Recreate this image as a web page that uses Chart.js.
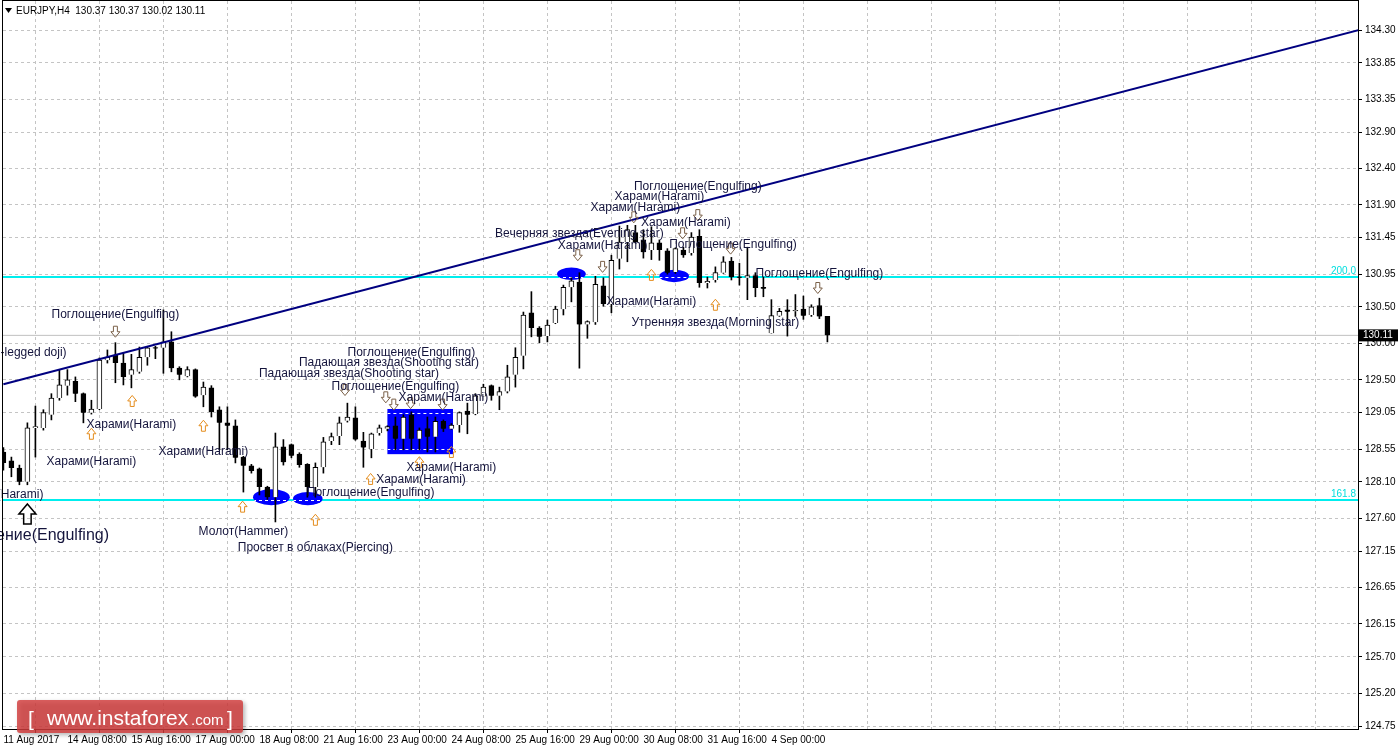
<!DOCTYPE html>
<html lang="ru">
<head>
<meta charset="UTF-8" />
<title>EURJPY,H4</title>
<script src="https://cdn.jsdelivr.net/npm/chart.js"></script>
<style>
  html, body { margin: 0; padding: 0; background: #fff; }
  #wrap { width: 1398px; height: 750px; }
</style>
</head>
<body>
<div id="wrap"><canvas id="chart" width="1398" height="750"></canvas></div>
<script>
  // H4 свечи, бар 0 = 11 Aug 2017 00:00
  const opens = [128.51,128.39,128.29,128.10,128.84,128.84,129.02,129.25,129.42,129.48,
    129.31,129.05,129.10,129.77,129.84,129.73,129.57,129.61,129.81,129.94,
    129.94,130.02,129.66,129.55,129.64,129.29,129.39,129.09,128.91,128.87,
    128.44,128.32,128.28,128.03,127.89,128.58,128.61,128.48,128.34,128.03,
    128.30,128.66,128.73,128.94,128.98,128.66,128.55,128.77,128.83,128.87,
    128.69,129.02,128.69,128.83,128.72,128.93,128.83,128.88,129.07,129.03,
    129.27,129.42,129.28,129.34,129.57,129.83,130.42,130.21,130.10,130.28,
    130.47,130.77,130.84,130.26,130.29,130.79,130.54,131.16,131.39,131.52,
    131.42,131.28,131.38,131.27,130.98,131.28,131.24,131.47,130.83,130.87,
    130.97,131.13,130.91,130.90,130.93,130.77,130.14,130.38,130.46,130.44,
    130.47,130.39,130.52,130.37];
  const highs = [128.57,128.44,128.33,128.91,129.14,129.09,129.31,129.64,129.64,129.54,
    129.32,129.22,129.80,129.91,130.01,129.87,129.85,129.95,129.95,129.96,
    130.46,130.16,129.68,129.68,129.65,129.47,129.42,129.13,129.13,128.95,
    128.45,128.34,128.29,128.04,128.77,128.68,128.62,128.50,128.35,128.36,
    128.71,128.77,128.99,129.18,129.13,128.78,128.77,128.88,128.87,128.99,
    129.02,129.06,128.84,128.99,128.99,128.95,128.90,129.06,129.18,129.31,
    129.44,129.43,129.40,129.70,129.94,130.43,130.71,130.23,130.32,130.51,
    130.80,130.90,130.97,130.31,130.92,130.90,131.21,131.61,131.62,131.62,
    131.56,131.60,131.42,131.30,131.31,131.32,131.52,131.56,130.91,131.05,
    131.19,131.18,131.10,131.32,130.97,130.91,130.60,130.48,130.60,130.67,
    130.65,130.53,130.62,130.37];
  const lows = [128.26,128.17,128.06,128.06,128.44,128.81,128.95,129.22,129.29,129.20,
    128.91,129.03,129.09,129.73,129.46,129.43,129.39,129.59,129.70,129.79,
    129.59,129.61,129.50,129.54,129.26,129.13,128.99,128.54,128.54,128.36,
    127.96,128.22,127.92,127.86,127.55,128.33,128.43,128.30,127.89,127.89,
    128.22,128.61,128.61,128.92,128.67,128.30,128.43,128.74,128.80,128.54,
    128.54,128.54,128.54,128.51,128.51,128.79,128.82,128.78,128.76,129.02,
    129.27,129.22,129.09,129.32,129.40,129.65,130.09,130.01,130.02,130.27,
    130.39,130.57,129.66,130.07,130.26,130.51,130.42,131.02,131.12,131.38,
    131.17,131.15,131.14,130.95,130.96,131.18,131.21,130.77,130.76,130.84,
    130.96,130.87,130.80,130.60,130.64,130.64,130.14,130.37,130.10,130.37,
    130.33,130.37,130.34,130.02];
  const closes = [128.36,128.29,128.10,128.84,128.86,129.05,129.25,129.43,129.50,129.31,
    129.05,129.10,129.77,129.81,129.73,129.54,129.64,129.81,129.94,129.93,
    130.02,129.66,129.57,129.64,129.27,129.40,129.06,128.91,128.87,128.43,
    128.32,128.25,128.03,127.89,128.58,128.37,128.46,128.33,128.03,128.30,
    128.65,128.72,128.91,128.99,128.68,128.57,128.76,128.84,128.86,128.69,
    128.99,128.69,128.81,128.72,128.93,128.83,128.88,129.05,129.02,129.28,
    129.40,129.28,129.34,129.54,129.81,130.39,130.21,130.09,130.25,130.47,
    130.77,130.86,130.26,130.30,130.81,130.54,131.14,131.39,131.56,131.39,
    131.25,131.38,131.28,130.97,131.30,131.21,131.46,130.83,130.85,130.97,
    131.12,130.91,130.90,130.93,130.76,130.75,130.38,130.44,130.44,130.45,
    130.38,130.50,130.37,130.11];

  // подписи времени, каждые 8 баров
  const timeLabels = ['11 Aug 2017','14 Aug 08:00','15 Aug 16:00','17 Aug 00:00','18 Aug 08:00',
    '21 Aug 16:00','23 Aug 00:00','24 Aug 08:00','25 Aug 16:00','29 Aug 00:00',
    '30 Aug 08:00','31 Aug 16:00','4 Sep 00:00'];
  const priceTicks = [134.30,133.85,133.35,132.90,132.40,131.90,131.45,130.95,130.50,130.00,
    129.50,129.05,128.55,128.10,127.60,127.15,126.65,126.15,125.70,125.20,124.75];

  // линии
  const trendLine = [[0, 129.44], [169.4, 134.30]];
  const fiboLevels = [['200.0', 130.91], ['161.8', 127.85]];
  const lastPrice = 130.11;

  // фигуры: [бар от, бар до, цена верх, цена низ]
  const zoneRect = [48.0, 56.2, 129.10, 128.48];
  const zoneEllipses = [
    [31.2, 35.8, 128.00, 127.78],
    [36.2, 39.9, 127.96, 127.78],
    [69.2, 72.8, 131.04, 130.87],
    [82.0, 85.7, 131.01, 130.84]
  ];

  // подписи паттернов: [бар, цена, текст, выравнивание, размер]
  const patternLabels = [
    [14.0, 130.39, 'Поглощение(Engulfing)'],
    [7.9, 129.87, 'Long-legged doji)', 'right'],
    [16.0, 128.89, 'Харами(Harami)'],
    [11.0, 128.37, 'Харами(Harami)'],
    [25.0, 128.51, 'Харами(Harami)'],
    [5.0, 127.93, 'Харами(Harami)', 'right'],
    [13.2, 127.36, 'Поглощение(Engulfing)', 'right', 16],
    [30.0, 127.41, 'Молот(Hammer)'],
    [39.0, 127.20, 'Просвет в облаках(Piercing)'],
    [45.9, 127.95, 'Поглощение(Engulfing)'],
    [52.2, 128.13, 'Харами(Harami)'],
    [51.0, 129.87, 'Поглощение(Engulfing)'],
    [48.2, 129.73, 'Падающая звезда(Shooting star)'],
    [43.2, 129.58, 'Падающая звезда(Shooting star)'],
    [49.0, 129.40, 'Поглощение(Engulfing)'],
    [55.0, 129.25, 'Харами(Harami)'],
    [56.0, 128.30, 'Харами(Harami)'],
    [72.0, 131.50, 'Вечерняя звезда(Evening star)'],
    [86.8, 132.15, 'Поглощение(Engulfing)'],
    [82.0, 132.01, 'Харами(Harami)'],
    [79.0, 131.86, 'Харами(Harami)'],
    [85.3, 131.65, 'Харами(Harami)'],
    [74.9, 131.34, 'Харами(Harami)'],
    [91.2, 131.36, 'Поглощение(Engulfing)'],
    [81.0, 130.57, 'Харами(Harami)'],
    [89.0, 130.28, 'Утренняя звезда(Morning star)'],
    [102.0, 130.95, 'Поглощение(Engulfing)']
  ];
  const upArrows = [[16.1,129.21],[11.0,128.76],[25.0,128.87],[29.9,127.76],[39.0,127.58],
    [45.9,128.14],[56.0,128.51],[52.0,128.37],[81.0,130.94],[89.0,130.53]];
  const downArrows = [[14.0,130.16],[42.7,129.36],[47.8,129.26],[48.8,129.16],[50.9,129.18],
    [54.9,129.16],[71.8,131.21],[74.9,131.05],[78.8,131.73],[84.9,131.51],[86.8,131.76],
    [90.9,131.30],[101.8,130.76]];
  const bigArrow = [3.0, 127.66];

  Chart.defaults.font.family = '"Liberation Sans", Arial, sans-serif';

  const wicks = opens.map((o, i) => ({ x: i, y: [lows[i], highs[i]] }));
  const bodies = opens.map((o, i) => ({ x: i, y: [Math.min(o, closes[i]), Math.max(o, closes[i])] }));
  const bodyColors = opens.map((o, i) => closes[i] >= o ? '#ffffff' : '#000000');

  function arrow(ctx, x, y, up, w, h, color, lw) {
    const hw = w / 2, sw = w * 0.22, top = y - h / 2, bot = y + h / 2;
    ctx.beginPath();
    if (up) {
      const mid = top + h * 0.5;
      ctx.moveTo(x, top); ctx.lineTo(x + hw, mid); ctx.lineTo(x + sw, mid); ctx.lineTo(x + sw, bot);
      ctx.lineTo(x - sw, bot); ctx.lineTo(x - sw, mid); ctx.lineTo(x - hw, mid);
    } else {
      const mid = bot - h * 0.5;
      ctx.moveTo(x, bot); ctx.lineTo(x + hw, mid); ctx.lineTo(x + sw, mid); ctx.lineTo(x + sw, top);
      ctx.lineTo(x - sw, top); ctx.lineTo(x - sw, mid); ctx.lineTo(x - hw, mid);
    }
    ctx.closePath();
    ctx.strokeStyle = color;
    ctx.lineWidth = lw;
    ctx.stroke();
  }

  // без автоматических отступов под крайние подписи
  function noPad(s) {
    s.paddingTop = 0; s.paddingBottom = 0; s.paddingLeft = 0; s.paddingRight = 0;
  }

  const extras = {
    id: 'extras',
    beforeDatasetDraw(chart, args) {
      if (chart.data.datasets[args.index].label !== 'wicks') return;
      const ctx = chart.ctx, xs = chart.scales.x, ys = chart.scales.y;
      ctx.save();
      // прямоугольник
      const rx0 = xs.getPixelForValue(zoneRect[0]), rx1 = xs.getPixelForValue(zoneRect[1]);
      const ry0 = ys.getPixelForValue(zoneRect[2]), ry1 = ys.getPixelForValue(zoneRect[3]);
      ctx.fillStyle = '#0000ff';
      ctx.fillRect(rx0, ry0, rx1 - rx0, ry1 - ry0);
      ctx.save();
      ctx.beginPath(); ctx.rect(rx0, ry0, rx1 - rx0, ry1 - ry0); ctx.clip();
      ctx.strokeStyle = '#ffffff'; ctx.lineWidth = 1; ctx.setLineDash([3, 3]);
      priceTicks.forEach(v => {
        const py = Math.round(ys.getPixelForValue(v)) + 0.5;
        ctx.beginPath(); ctx.moveTo(rx0, py); ctx.lineTo(rx1, py); ctx.stroke();
      });
      ctx.restore();
      // эллипсы
      zoneEllipses.forEach(e => {
        const x0 = xs.getPixelForValue(e[0]), x1 = xs.getPixelForValue(e[1]);
        const y0 = ys.getPixelForValue(e[2]), y1 = ys.getPixelForValue(e[3]);
        ctx.save();
        ctx.beginPath();
        ctx.ellipse((x0 + x1) / 2, (y0 + y1) / 2, (x1 - x0) / 2, (y1 - y0) / 2, 0, 0, Math.PI * 2);
        ctx.fillStyle = '#0000ff';
        ctx.fill();
        ctx.clip();
        ctx.strokeStyle = '#ffffff'; ctx.lineWidth = 1; ctx.setLineDash([3, 3]);
        fiboLevels.forEach(f => {
          const py = Math.round(ys.getPixelForValue(f[1])) + 0.5;
          ctx.beginPath(); ctx.moveTo(x0, py); ctx.lineTo(x1, py); ctx.stroke();
        });
        ctx.restore();
      });
      ctx.restore();
    },
    afterDatasetsDraw(chart) {
      const ctx = chart.ctx, xs = chart.scales.x, ys = chart.scales.y;
      ctx.save();
      upArrows.forEach(a => arrow(ctx, xs.getPixelForValue(a[0]), ys.getPixelForValue(a[1]), true, 9, 11, '#e48c1c', 1));
      downArrows.forEach(a => arrow(ctx, xs.getPixelForValue(a[0]), ys.getPixelForValue(a[1]), false, 9, 11, '#7a6048', 1));
      arrow(ctx, xs.getPixelForValue(bigArrow[0]), ys.getPixelForValue(bigArrow[1]), true, 17, 20, '#000000', 1.5);
      ctx.textBaseline = 'middle';
      ctx.fillStyle = '#14143c';
      patternLabels.forEach(l => {
        ctx.font = (l[4] || 12) + 'px "Liberation Sans", Arial, sans-serif';
        ctx.textAlign = l[3] || 'center';
        ctx.fillText(l[2], xs.getPixelForValue(l[0]), ys.getPixelForValue(l[1]));
      });
      ctx.restore();
    },
    afterDraw(chart) {
      const ctx = chart.ctx, ca = chart.chartArea, ys = chart.scales.y;
      ctx.save();
      // рамка
      ctx.strokeStyle = '#000'; ctx.lineWidth = 1;
      ctx.strokeRect(ca.left - 0.5, ca.top - 0.5, ca.right - ca.left + 1, ca.bottom - ca.top + 1);
      // уровни фибо
      ctx.font = '10px "Liberation Sans", Arial, sans-serif';
      ctx.fillStyle = '#00dede';
      ctx.textAlign = 'right'; ctx.textBaseline = 'bottom';
      fiboLevels.forEach(f => ctx.fillText(f[0], ca.right - 2, ys.getPixelForValue(f[1]) - 1));
      // текущая цена
      const py = ys.getPixelForValue(lastPrice);
      ctx.fillStyle = '#000';
      ctx.fillRect(ca.right + 1, py - 6, 40, 12);
      ctx.fillStyle = '#fff';
      ctx.textAlign = 'left'; ctx.textBaseline = 'middle';
      ctx.fillText(lastPrice.toFixed(2), ca.right + 5, py);
      // заголовок
      ctx.fillStyle = '#000';
      ctx.beginPath(); ctx.moveTo(5, 8); ctx.lineTo(12, 8); ctx.lineTo(8.5, 13); ctx.closePath(); ctx.fill();
      ctx.fillText('EURJPY,H4  ' + [opens[103], highs[103], lows[103], closes[103]].map(v => v.toFixed(2)).join(' '), 16, 11);
      // логотип
      ctx.shadowColor = 'rgba(0,0,0,0.35)'; ctx.shadowBlur = 4; ctx.shadowOffsetX = 2; ctx.shadowOffsetY = 2;
      ctx.fillStyle = 'rgba(210,60,60,0.82)';
      ctx.beginPath(); ctx.roundRect(17, 700, 226, 33, 3); ctx.fill();
      ctx.shadowColor = 'transparent';
      ctx.fillStyle = '#fff';
      ctx.textBaseline = 'alphabetic';
      ctx.font = '21px "Liberation Sans", Arial, sans-serif';
      ctx.fillText('[', 28, 726);
      ctx.fillText('www.instaforex', 47, 725);
      ctx.font = '15px "Liberation Sans", Arial, sans-serif';
      ctx.fillText('.com', 191, 725);
      ctx.font = '21px "Liberation Sans", Arial, sans-serif';
      ctx.fillText(']', 227, 726);
      ctx.restore();
    }
  };

  new Chart(document.getElementById('chart'), {
    type: 'bar',
    data: {
      datasets: [
        { type: 'line', label: 'trend', data: trendLine.map(t => ({ x: t[0], y: t[1] })),
          borderColor: '#000080', borderWidth: 2, pointRadius: 0, order: 0 },
        { type: 'line', label: 'fibo200', data: [{ x: -5, y: fiboLevels[0][1] }, { x: 175, y: fiboLevels[0][1] }],
          borderColor: '#00eeee', borderWidth: 2, pointRadius: 0, order: 10 },
        { type: 'line', label: 'fibo161', data: [{ x: -5, y: fiboLevels[1][1] }, { x: 175, y: fiboLevels[1][1] }],
          borderColor: '#00eeee', borderWidth: 2, pointRadius: 0, order: 10 },
        { type: 'line', label: 'price', data: [{ x: -5, y: lastPrice }, { x: 175, y: lastPrice }],
          borderColor: '#c0c0c0', borderWidth: 1, pointRadius: 0, order: 11 },
        { label: 'wicks', data: wicks, backgroundColor: '#000', barThickness: 1, grouped: false, order: 5 },
        { label: 'bodies', data: bodies, backgroundColor: bodyColors, borderColor: '#000', borderWidth: 1,
          barThickness: 5, minBarLength: 1, grouped: false, order: 1 }
      ]
    },
    options: {
      responsive: false,
      animation: false,
      events: [],
      layout: { autoPadding: false, padding: { left: 3, top: 1, right: 0, bottom: 0 } },
      plugins: { legend: { display: false }, tooltip: { enabled: false } },
      scales: {
        x: {
          type: 'linear', min: -0.05, max: 169.325, offset: false,
          afterBuildTicks: s => { s.ticks = []; for (let v = 0; v <= 168; v += 8) s.ticks.push({ value: v }); },
          afterFit: s => { s.height = 21; noPad(s); },
          ticks: { autoSkip: false, maxRotation: 0, minRotation: 0, align: 'start', padding: 1, color: '#000',
            font: { size: 10 }, callback: v => timeLabels[v / 8] || '' },
          grid: { color: '#c4c4c4', tickLength: 4,
            tickColor: c => (c.tick && c.tick.value <= 96) ? '#000' : 'rgba(0,0,0,0)' },
          border: { display: true, color: '#000', width: 1, dash: [3, 3] }
        },
        y: {
          type: 'linear', position: 'right', min: 124.709, max: 134.698,
          afterBuildTicks: s => { s.ticks = priceTicks.map(v => ({ value: v })); },
          afterFit: s => { s.width = 40; noPad(s); },
          ticks: { color: '#000', padding: 3, font: { size: 10 }, callback: v => v.toFixed(2) },
          grid: { color: '#c4c4c4', tickLength: 4, tickColor: '#000' },
          border: { display: true, color: '#000', width: 1, dash: [3, 3] }
        }
      }
    },
    plugins: [extras]
  });
</script>
</body>
</html>
